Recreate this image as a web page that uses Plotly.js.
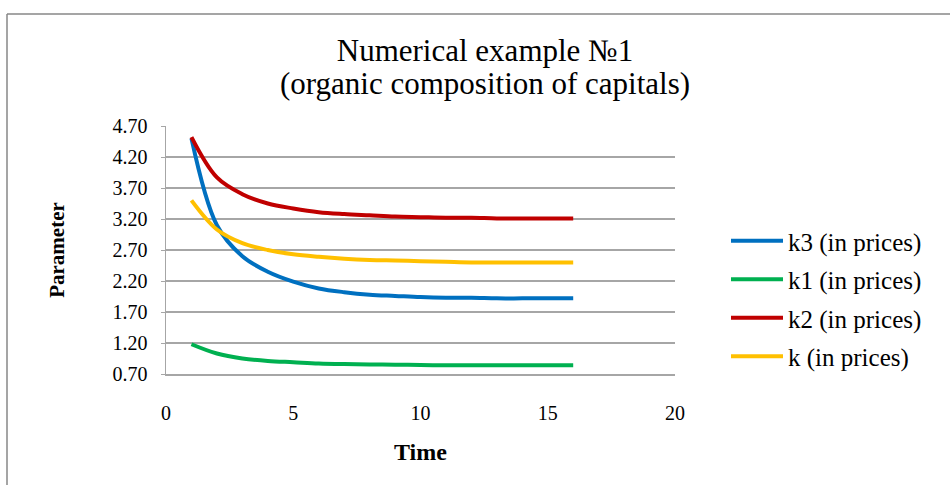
<!DOCTYPE html>
<html>
<head>
<meta charset="utf-8">
<script src="https://cdn.plot.ly/plotly-3.0.1.min.js"></script>
<style>
html,body{margin:0;padding:0;background:#fff;}
#chart{width:950px;height:485px;}
</style>
</head>
<body>
<div id="chart"></div>
<script>
const time = [1, 2, 3, 4, 5, 6, 7, 8, 9, 10, 11, 12, 13, 14, 15, 16];
const k3 = [4.50, 3.10, 2.60, 2.35, 2.19, 2.08, 2.02, 1.98, 1.96, 1.94, 1.93, 1.93, 1.92, 1.92, 1.92, 1.92];
const k1 = [1.18, 1.03, 0.95, 0.91, 0.89, 0.87, 0.86, 0.855, 0.85, 0.845, 0.84, 0.84, 0.84, 0.84, 0.84, 0.84];
const k2 = [4.52, 3.87, 3.60, 3.45, 3.37, 3.31, 3.28, 3.26, 3.24, 3.23, 3.22, 3.22, 3.21, 3.21, 3.21, 3.21];
const k  = [3.50, 3.03, 2.81, 2.70, 2.63, 2.59, 2.56, 2.54, 2.53, 2.52, 2.51, 2.50, 2.50, 2.50, 2.50, 2.50];
const seriesNames = ["k3 (in prices)", "k1 (in prices)", "k2 (in prices)", "k (in prices)"];
const yTicks = [0.70, 1.20, 1.70, 2.20, 2.70, 3.20, 3.70, 4.20, 4.70];
const xTicks = [0, 5, 10, 15, 20];
const titleLines = ["Numerical example №1", "(organic composition of capitals)"];

const colors = ["#0070c0", "#00b050", "#c00000", "#ffc000"];
const series = [k3, k1, k2, k];
const font = "Liberation Serif";

const traces = series.map((ys, i) => ({
  x: time, y: ys, type: "scatter", mode: "lines",
  name: seriesNames[i], legendgroup: "g" + i,
  line: {color: colors[i], width: 4, shape: "spline", smoothing: 1},
  hoverinfo: "x+y"
}));

const L = 166, R = 675, T = 126, B = 374;
const pw = R - L, ph = B - T;
const px = v => (v - L) / pw;
const py = v => (B - v) / ph;

const layout = {
  width: 950, height: 485,
  margin: {l: L, r: 950 - R, t: T, b: 485 - B, pad: 0},
  paper_bgcolor: "#fff", plot_bgcolor: "#fff",
  font: {family: font, color: "#000", size: 20},
  showlegend: true,
  title: {
    text: titleLines[0],
    font: {family: font, size: 31, color: "#000"},
    x: px(485), xref: "paper", xanchor: "center",
    y: 1 - 50/485, yref: "container", yanchor: "middle"
  },
  annotations: [{
    text: titleLines[1], showarrow: false,
    xref: "paper", yref: "paper", x: px(485), y: py(83),
    xanchor: "center", yanchor: "middle",
    font: {family: font, size: 31, color: "#000"}
  }],
  xaxis: {
    range: [0, 20], tickvals: xTicks, ticktext: xTicks.map(String),
    showgrid: false, zeroline: false, showline: true, linecolor: "#a6a6a6", linewidth: 1.5,
    ticks: "", tickfont: {family: font, size: 20, color: "#000"},
    ticklabelstandoff: 20,
    title: {text: "<b>Time</b>", font: {family: font, size: 24, color: "#000"}, standoff: 20}
  },
  yaxis: {
    range: [0.70, 4.70], tickvals: yTicks, ticktext: yTicks.map(v => v.toFixed(2)),
    showgrid: true, gridcolor: "#a6a6a6", gridwidth: 1.2,
    zeroline: false, showline: true, linecolor: "#a6a6a6", linewidth: 1.5,
    ticks: "outside", ticklen: 4, tickcolor: "#a6a6a6",
    tickfont: {family: font, size: 20, color: "#000"},
    ticklabelstandoff: 9,
    title: {text: "<b>Parameter</b>", font: {family: font, size: 21, color: "#000"}, standoff: 42}
  },
  legend: {
    x: px(726), xanchor: "left", y: py(218), yanchor: "top",
    font: {family: font, size: 25, color: "#000"},
    bgcolor: "rgba(0,0,0,0)", borderwidth: 0,
    traceorder: "grouped", tracegroupgap: 3, itemwidth: 52
  },
  shapes: [
    {type: "line", xref: "paper", yref: "paper", x0: px(7), x1: px(7), y0: py(14), y1: py(490), line: {color: "#878787", width: 1.5}},
    {type: "line", xref: "paper", yref: "paper", x0: px(7), x1: px(955), y0: py(14), y1: py(14), line: {color: "#878787", width: 1.5}}
  ]
};

Plotly.newPlot("chart", traces, layout, {displayModeBar: false, staticPlot: true});
</script>
</body>
</html>
